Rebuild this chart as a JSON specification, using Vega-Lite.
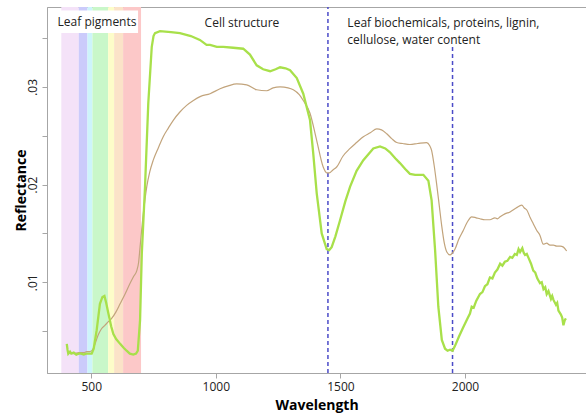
{
  "$schema": "https://vega.github.io/schema/vega-lite/v6.json",
  "width": 539,
  "height": 366,
  "autosize": "none",
  "padding": {"left": 47, "top": 7, "right": 0, "bottom": 45},
  "background": "white",
  "config": {
    "view": {"stroke": "#a6a6a6", "strokeWidth": 1},
    "font": "Open Sans"
  },
  "datasets": {
    "bands": [
      {"band": "violet", "a": 380, "b": 450},
      {"band": "blue", "a": 450, "b": 485},
      {"band": "cyan", "a": 485, "b": 505},
      {"band": "green", "a": 505, "b": 568},
      {"band": "yellow", "a": 568, "b": 592},
      {"band": "orange", "a": 592, "b": 628},
      {"band": "red", "a": 628, "b": 700}
    ],
    "box": [{"a": 339, "b": 688, "lo": 0.0355, "hi": 0.0378}],
    "rules": [
      {"w": 1450, "lo": 0.00072, "hi": 0.03817},
      {"w": 1950, "lo": 0.00072, "hi": 0.0341}
    ],
    "notes": [
      {"t": "Leaf pigments", "w": 365, "r": 0.03665},
      {"t": "Cell structure", "w": 955, "r": 0.03655},
      {"t": "Leaf biochemicals, proteins, lignin,", "w": 1528, "r": 0.03655},
      {"t": "cellulose, water content", "w": 1528, "r": 0.03478}
    ],
    "green": [
      {"w": 402, "r": 0.0037}, {"w": 405, "r": 0.0031}, {"w": 408, "r": 0.0027},
      {"w": 415, "r": 0.0029}, {"w": 420, "r": 0.0027}, {"w": 430, "r": 0.0028},
      {"w": 440, "r": 0.0026}, {"w": 450, "r": 0.0027}, {"w": 460, "r": 0.0027},
      {"w": 470, "r": 0.0026}, {"w": 480, "r": 0.0027}, {"w": 490, "r": 0.0027},
      {"w": 502, "r": 0.0027}, {"w": 510, "r": 0.0032}, {"w": 522, "r": 0.0051},
      {"w": 535, "r": 0.0078}, {"w": 545, "r": 0.0085}, {"w": 553, "r": 0.0086},
      {"w": 560, "r": 0.0079}, {"w": 569, "r": 0.0068}, {"w": 580, "r": 0.0055},
      {"w": 589, "r": 0.0047}, {"w": 600, "r": 0.0042}, {"w": 616, "r": 0.0037},
      {"w": 630, "r": 0.0033}, {"w": 642, "r": 0.0030}, {"w": 655, "r": 0.0027},
      {"w": 669, "r": 0.0026}, {"w": 680, "r": 0.0027}, {"w": 687, "r": 0.0030},
      {"w": 696, "r": 0.0061}, {"w": 703, "r": 0.0129}, {"w": 716, "r": 0.0198},
      {"w": 729, "r": 0.0283}, {"w": 743, "r": 0.0341}, {"w": 750, "r": 0.0352},
      {"w": 756, "r": 0.0355}, {"w": 776, "r": 0.0357}, {"w": 820, "r": 0.0356},
      {"w": 856, "r": 0.0355}, {"w": 900, "r": 0.0352}, {"w": 936, "r": 0.0348},
      {"w": 963, "r": 0.0343}, {"w": 977, "r": 0.0343}, {"w": 1004, "r": 0.0341},
      {"w": 1030, "r": 0.0341}, {"w": 1070, "r": 0.0340}, {"w": 1110, "r": 0.0339},
      {"w": 1137, "r": 0.0333}, {"w": 1164, "r": 0.0322}, {"w": 1190, "r": 0.0318},
      {"w": 1218, "r": 0.0316}, {"w": 1240, "r": 0.0318}, {"w": 1258, "r": 0.0320},
      {"w": 1280, "r": 0.0319}, {"w": 1298, "r": 0.0317}, {"w": 1325, "r": 0.0309},
      {"w": 1351, "r": 0.0293}, {"w": 1378, "r": 0.0266}, {"w": 1391, "r": 0.0232},
      {"w": 1405, "r": 0.0191}, {"w": 1425, "r": 0.0150}, {"w": 1445, "r": 0.0134},
      {"w": 1455, "r": 0.0133}, {"w": 1465, "r": 0.0136}, {"w": 1480, "r": 0.0147},
      {"w": 1498, "r": 0.0163}, {"w": 1520, "r": 0.0183}, {"w": 1539, "r": 0.0198},
      {"w": 1565, "r": 0.0214}, {"w": 1592, "r": 0.0225}, {"w": 1632, "r": 0.0237},
      {"w": 1659, "r": 0.0239}, {"w": 1680, "r": 0.0237}, {"w": 1699, "r": 0.0233},
      {"w": 1720, "r": 0.0227}, {"w": 1739, "r": 0.0222}, {"w": 1760, "r": 0.0216},
      {"w": 1779, "r": 0.0211}, {"w": 1800, "r": 0.0210}, {"w": 1833, "r": 0.0210},
      {"w": 1853, "r": 0.0204}, {"w": 1866, "r": 0.0184}, {"w": 1880, "r": 0.0133},
      {"w": 1893, "r": 0.0075}, {"w": 1907, "r": 0.0041}, {"w": 1920, "r": 0.0032},
      {"w": 1930, "r": 0.0030}, {"w": 1940, "r": 0.0031}, {"w": 1950, "r": 0.0030},
      {"w": 1960, "r": 0.0035}, {"w": 1975, "r": 0.0044}, {"w": 1993, "r": 0.0054},
      {"w": 2010, "r": 0.0063}, {"w": 2020, "r": 0.0068}, {"w": 2027, "r": 0.0075},
      {"w": 2035, "r": 0.0074}, {"w": 2045, "r": 0.0081}, {"w": 2060, "r": 0.0088},
      {"w": 2070, "r": 0.0090}, {"w": 2080, "r": 0.0096}, {"w": 2090, "r": 0.0098},
      {"w": 2100, "r": 0.0105}, {"w": 2110, "r": 0.0104}, {"w": 2120, "r": 0.0110},
      {"w": 2130, "r": 0.0113}, {"w": 2141, "r": 0.0119}, {"w": 2150, "r": 0.0117},
      {"w": 2160, "r": 0.0121}, {"w": 2170, "r": 0.0122}, {"w": 2181, "r": 0.0126},
      {"w": 2190, "r": 0.0125}, {"w": 2200, "r": 0.0129}, {"w": 2208, "r": 0.0128},
      {"w": 2215, "r": 0.0134}, {"w": 2221, "r": 0.0131}, {"w": 2230, "r": 0.0135},
      {"w": 2236, "r": 0.0130}, {"w": 2241, "r": 0.0128}, {"w": 2248, "r": 0.0129},
      {"w": 2255, "r": 0.0125}, {"w": 2265, "r": 0.0119}, {"w": 2274, "r": 0.0112},
      {"w": 2282, "r": 0.0110}, {"w": 2290, "r": 0.0104}, {"w": 2301, "r": 0.0099},
      {"w": 2308, "r": 0.0100}, {"w": 2315, "r": 0.0093}, {"w": 2322, "r": 0.0095},
      {"w": 2328, "r": 0.0088}, {"w": 2335, "r": 0.0091}, {"w": 2345, "r": 0.0083},
      {"w": 2350, "r": 0.0086}, {"w": 2355, "r": 0.0082}, {"w": 2365, "r": 0.0077},
      {"w": 2370, "r": 0.0079}, {"w": 2375, "r": 0.0071}, {"w": 2385, "r": 0.0067},
      {"w": 2390, "r": 0.0064}, {"w": 2395, "r": 0.0056}, {"w": 2400, "r": 0.0061},
      {"w": 2405, "r": 0.0063}
    ],
    "brown": [
      {"w": 410, "r": 0.0028}, {"w": 430, "r": 0.0027}, {"w": 450, "r": 0.0028},
      {"w": 470, "r": 0.0028}, {"w": 482, "r": 0.0029}, {"w": 495, "r": 0.0029},
      {"w": 508, "r": 0.0032}, {"w": 518, "r": 0.0039}, {"w": 528, "r": 0.0046},
      {"w": 540, "r": 0.0052}, {"w": 555, "r": 0.0056}, {"w": 570, "r": 0.0060},
      {"w": 582, "r": 0.0063}, {"w": 600, "r": 0.0070}, {"w": 616, "r": 0.0078},
      {"w": 636, "r": 0.0088}, {"w": 656, "r": 0.0099}, {"w": 670, "r": 0.0106},
      {"w": 683, "r": 0.0112}, {"w": 690, "r": 0.0120}, {"w": 696, "r": 0.0136},
      {"w": 709, "r": 0.0170}, {"w": 723, "r": 0.0198}, {"w": 735, "r": 0.0213},
      {"w": 749, "r": 0.0225}, {"w": 770, "r": 0.0238}, {"w": 789, "r": 0.0249},
      {"w": 810, "r": 0.0258}, {"w": 830, "r": 0.0266}, {"w": 855, "r": 0.0274},
      {"w": 883, "r": 0.0281}, {"w": 910, "r": 0.0286}, {"w": 937, "r": 0.0290},
      {"w": 977, "r": 0.0293}, {"w": 1017, "r": 0.0298}, {"w": 1050, "r": 0.0301},
      {"w": 1084, "r": 0.0303}, {"w": 1124, "r": 0.0302}, {"w": 1164, "r": 0.0297},
      {"w": 1204, "r": 0.0296}, {"w": 1230, "r": 0.0299}, {"w": 1258, "r": 0.0300},
      {"w": 1290, "r": 0.0299}, {"w": 1311, "r": 0.0297}, {"w": 1335, "r": 0.0292},
      {"w": 1351, "r": 0.0286}, {"w": 1378, "r": 0.0273}, {"w": 1405, "r": 0.0245},
      {"w": 1431, "r": 0.0218}, {"w": 1445, "r": 0.0212}, {"w": 1455, "r": 0.0212},
      {"w": 1470, "r": 0.0215}, {"w": 1485, "r": 0.0218}, {"w": 1510, "r": 0.0229},
      {"w": 1539, "r": 0.0237}, {"w": 1565, "r": 0.0243}, {"w": 1592, "r": 0.0249},
      {"w": 1620, "r": 0.0253}, {"w": 1646, "r": 0.0257}, {"w": 1665, "r": 0.0256},
      {"w": 1686, "r": 0.0252}, {"w": 1706, "r": 0.0247}, {"w": 1726, "r": 0.0243},
      {"w": 1750, "r": 0.0242}, {"w": 1779, "r": 0.0241}, {"w": 1810, "r": 0.0242},
      {"w": 1846, "r": 0.0243}, {"w": 1858, "r": 0.0240}, {"w": 1866, "r": 0.0235},
      {"w": 1876, "r": 0.0220}, {"w": 1886, "r": 0.0201}, {"w": 1897, "r": 0.0178},
      {"w": 1907, "r": 0.0157}, {"w": 1917, "r": 0.0140}, {"w": 1927, "r": 0.0131},
      {"w": 1940, "r": 0.0128}, {"w": 1950, "r": 0.0130}, {"w": 1960, "r": 0.0134},
      {"w": 1975, "r": 0.0144}, {"w": 1993, "r": 0.0153}, {"w": 2010, "r": 0.0162},
      {"w": 2027, "r": 0.0167}, {"w": 2045, "r": 0.0166}, {"w": 2060, "r": 0.0165},
      {"w": 2080, "r": 0.0164}, {"w": 2100, "r": 0.0164}, {"w": 2120, "r": 0.0166},
      {"w": 2130, "r": 0.0165}, {"w": 2141, "r": 0.0167}, {"w": 2160, "r": 0.0170},
      {"w": 2181, "r": 0.0172}, {"w": 2205, "r": 0.0176}, {"w": 2228, "r": 0.0179},
      {"w": 2238, "r": 0.0176}, {"w": 2248, "r": 0.0174}, {"w": 2262, "r": 0.0166},
      {"w": 2274, "r": 0.0160}, {"w": 2288, "r": 0.0153}, {"w": 2301, "r": 0.0148},
      {"w": 2314, "r": 0.0139}, {"w": 2328, "r": 0.0140}, {"w": 2341, "r": 0.0138},
      {"w": 2355, "r": 0.0138}, {"w": 2368, "r": 0.0137}, {"w": 2382, "r": 0.0137},
      {"w": 2395, "r": 0.0136}, {"w": 2408, "r": 0.0132}
    ]
  },
  "layer": [
    {
      "data": {"name": "bands"},
      "mark": {"type": "rect", "opacity": 1},
      "encoding": {
        "x": {
          "field": "a", "type": "quantitative",
          "scale": {"domain": [322.6, 2485.6], "nice": false, "zero": false},
          "axis": {
            "values": [500, 1000, 1500, 2000],
            "format": "d",
            "title": "Wavelength",
            "titleFont": "Open Sans", "titleFontSize": 14, "titleFontWeight": "bold", "titleColor": "#000",
            "titlePadding": 6,
            "labelFont": "Open Sans", "labelFontSize": 12, "labelColor": "#222", "labelPadding": 3,
            "domain": true, "domainColor": "#a6a6a6",
            "ticks": true, "tickColor": "#a6a6a6", "tickSize": 5,
            "grid": false
          }
        },
        "x2": {"field": "b"},
        "color": {
          "field": "band", "type": "nominal", "legend": null,
          "scale": {
            "domain": ["violet", "blue", "cyan", "green", "yellow", "orange", "red"],
            "range": ["#f4e2f8", "#cbcbfb", "#cdf4fb", "#c9f7c9", "#fdfdc9", "#fbe3c8", "#fcc8c8"]
          }
        }
      }
    },
    {
      "data": {"name": "box"},
      "mark": {"type": "rect", "color": "white"},
      "encoding": {
        "x": {"field": "a", "type": "quantitative"},
        "x2": {"field": "b"},
        "y": {"field": "lo", "type": "quantitative"},
        "y2": {"field": "hi"}
      }
    },
    {
      "data": {"name": "rules"},
      "mark": {"type": "rule", "color": "#4b4bc8", "strokeDash": [4, 3], "strokeWidth": 1.5},
      "encoding": {
        "x": {"field": "w", "type": "quantitative"},
        "y": {"field": "lo", "type": "quantitative"},
        "y2": {"field": "hi"}
      }
    },
    {
      "data": {"name": "brown"},
      "mark": {"type": "line", "color": "#c2a47c", "strokeWidth": 1.2, "interpolate": "monotone"},
      "encoding": {
        "x": {"field": "w", "type": "quantitative"},
        "y": {
          "field": "r", "type": "quantitative",
          "scale": {"domain": [0.00072, 0.03817], "nice": false, "zero": false},
          "axis": {
            "values": [0.005, 0.01, 0.015, 0.02, 0.025, 0.03, 0.035],
            "labelExpr": "round(datum.value * 1000) % 10 == 0 ? replace(format(datum.value, '.2f'), '0.', '.') : ''",
            "labelAngle": -90,
            "labelFont": "Open Sans", "labelFontSize": 12, "labelColor": "#222", "labelPadding": 3,
            "title": "Reflectance",
            "titleFont": "Open Sans", "titleFontSize": 14, "titleFontWeight": "bold", "titleColor": "#000",
            "titlePadding": -2,
            "domain": true, "domainColor": "#a6a6a6",
            "ticks": true, "tickColor": "#a6a6a6", "tickSize": 5,
            "grid": false
          }
        }
      }
    },
    {
      "data": {"name": "green"},
      "mark": {"type": "line", "color": "#a8e04a", "strokeWidth": 2.3},
      "encoding": {
        "x": {"field": "w", "type": "quantitative"},
        "y": {"field": "r", "type": "quantitative"}
      }
    },
    {
      "data": {"name": "notes"},
      "mark": {"type": "text", "align": "left", "baseline": "middle", "font": "Open Sans", "fontSize": 12, "color": "#222"},
      "encoding": {
        "x": {"field": "w", "type": "quantitative"},
        "y": {"field": "r", "type": "quantitative"},
        "text": {"field": "t"}
      }
    }
  ]
}
